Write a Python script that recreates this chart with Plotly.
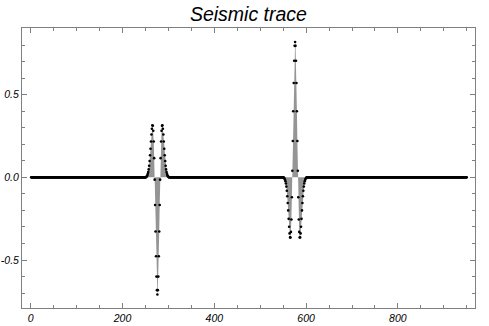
import plotly.graph_objects as go

# ---- data ----
n_samples = 950
samples = list(range(1, n_samples + 1))

# wavelet 1: centred near sample 276 (inverted Ricker)
wavelet1_start = 252
wavelet1 = [0.004, 0.007, 0.013, 0.021, 0.032, 0.048, 0.070, 0.099, 0.134, 0.173,
            0.217, 0.259, 0.294, 0.315, 0.312, 0.282, 0.217, 0.116, -0.014, -0.167,
            -0.327, -0.477, -0.600, -0.682, -0.708,
            -0.682, -0.600, -0.477, -0.327, -0.167, -0.014, 0.116, 0.217, 0.282, 0.312,
            0.315, 0.294, 0.259, 0.217, 0.173, 0.134, 0.099, 0.070, 0.048, 0.032,
            0.021, 0.013, 0.007, 0.004]

# wavelet 2: centred near sample 576 (positive Ricker)
wavelet2_start = 552
wavelet2 = [-0.004, -0.008, -0.015, -0.024, -0.037, -0.056, -0.081, -0.114, -0.155, -0.200,
            -0.251, -0.299, -0.339, -0.363, -0.364, -0.330, -0.255, -0.120, 0.040, 0.220,
            0.400, 0.570, 0.705, 0.795, 0.818,
            0.795, 0.705, 0.570, 0.400, 0.220, 0.040, -0.120, -0.255, -0.330, -0.364,
            -0.363, -0.339, -0.299, -0.251, -0.200, -0.155, -0.114, -0.081, -0.056, -0.037,
            -0.024, -0.015, -0.008, -0.004]

trace = [0.0] * n_samples
for i, v in enumerate(wavelet1):
    trace[wavelet1_start - 1 + i] = v
for i, v in enumerate(wavelet2):
    trace[wavelet2_start - 1 + i] = v

x_tickvals = [0, 200, 400, 600, 800]
x_ticktext = ["0", "200", "400", "600", "800"]
y_tickvals = [-0.5, 0.0, 0.5]
y_ticktext = ["-0.5", "0.0", "0.5"]

# ---- figure ----
fig = go.Figure()
fig.add_trace(go.Scatter(x=samples, y=trace, mode="lines", fill="tozeroy",
                         line=dict(width=0, color="#959595"), fillcolor="#959595",
                         hoverinfo="skip", showlegend=False))
fig.add_trace(go.Scatter(x=samples, y=trace, mode="markers",
                         marker=dict(size=2.6, color="black", line=dict(width=0)),
                         showlegend=False))

tick_font = dict(family="Liberation Sans, Arial, sans-serif", size=10.5, color="black", style="italic")
axis_common = dict(showline=True, linecolor="#808080", linewidth=1, mirror="ticks",
                   ticks="inside", ticklen=5, tickcolor="#808080", tickwidth=1,
                   showgrid=False, zeroline=False, tickfont=tick_font)

fig.update_xaxes(range=[-19, 968], tickvals=x_tickvals, ticktext=x_ticktext,
                 minor=dict(dtick=50, tick0=0, ticks="inside", ticklen=3, tickcolor="#808080"),
                 **axis_common)
fig.update_yaxes(range=[-0.79, 0.903], tickvals=y_tickvals, ticktext=y_ticktext,
                 minor=dict(dtick=0.1, tick0=0, ticks="inside", ticklen=3, tickcolor="#808080"),
                 **axis_common)

fig.update_layout(
    width=489, height=326,
    margin=dict(l=22, r=14, t=28, b=18, autoexpand=False),
    paper_bgcolor="white", plot_bgcolor="white",
    title=dict(text="Seismic trace", x=0.508, xanchor="center", y=0.955, yanchor="middle",
               yref="container",
               font=dict(family="Liberation Sans, Arial, sans-serif", size=19.5, color="black",
                         style="italic")),
)

fig.write_html("out.html")
